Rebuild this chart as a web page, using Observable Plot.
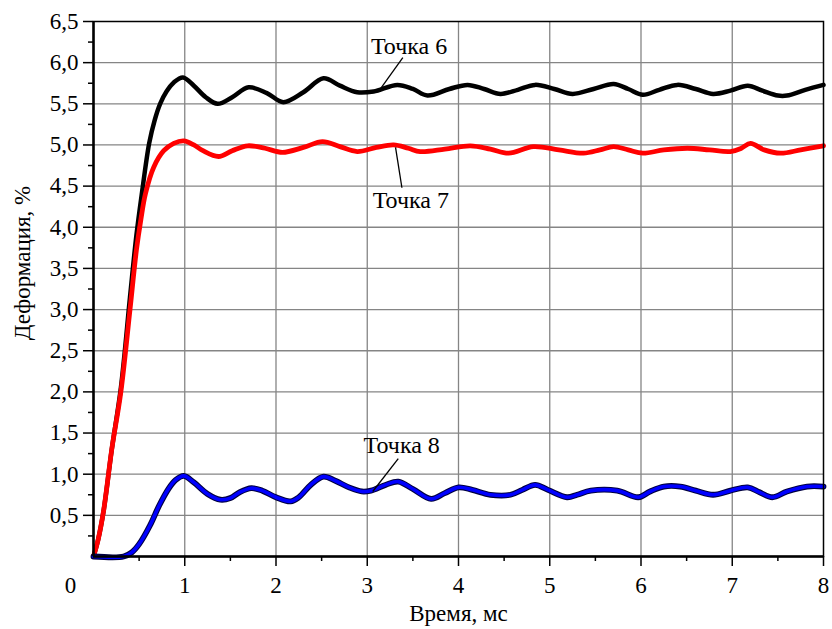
<!DOCTYPE html>
<html>
<head>
<meta charset="utf-8">
<script src="https://cdn.jsdelivr.net/npm/d3@7"></script>
<script src="https://cdn.jsdelivr.net/npm/@observablehq/plot@0.6"></script>
<style>
  html, body { margin: 0; padding: 0; background: white; }
</style>
</head>
<body>
<div id="chart"></div>
<script>
// Точка 6 (black)
const t6 = [0, 0.05, 0.11, 0.2, 0.3, 0.4, 0.47, 0.53, 0.61, 0.67, 0.73, 0.8, 0.88, 0.98, 1.1, 1.23, 1.36, 1.52, 1.7, 1.9, 2.08, 2.3, 2.52, 2.7, 2.89, 3.07, 3.33, 3.5, 3.66, 3.9, 4.1, 4.28, 4.46, 4.65, 4.84, 5.05, 5.25, 5.48, 5.7, 5.86, 6.02, 6.2, 6.4, 6.6, 6.79, 6.98, 7.17, 7.33, 7.5, 7.6, 7.8, 8.0];
const v6 = [0, 0.2, 0.55, 1.3, 2.05, 3.15, 3.9, 4.41, 5.02, 5.3, 5.5, 5.65, 5.76, 5.82, 5.72, 5.58, 5.5, 5.58, 5.7, 5.63, 5.52, 5.64, 5.81, 5.72, 5.64, 5.65, 5.73, 5.68, 5.6, 5.68, 5.73, 5.68, 5.62, 5.67, 5.73, 5.68, 5.62, 5.68, 5.74, 5.68, 5.61, 5.67, 5.73, 5.68, 5.62, 5.66, 5.72, 5.66, 5.6, 5.6, 5.67, 5.73];
// Точка 7 (red)
const t7 = [0, 0.05, 0.11, 0.2, 0.3, 0.4, 0.47, 0.52, 0.57, 0.66, 0.77, 0.88, 0.99, 1.1, 1.2, 1.37, 1.52, 1.69, 1.88, 2.07, 2.3, 2.51, 2.7, 2.89, 3.1, 3.29, 3.45, 3.58, 3.85, 4.13, 4.35, 4.55, 4.82, 5.1, 5.37, 5.55, 5.7, 5.86, 6.02, 6.25, 6.51, 6.75, 6.98, 7.1, 7.2, 7.35, 7.53, 7.75, 8.0];
const v7 = [0, 0.2, 0.55, 1.3, 2.0, 3.0, 3.72, 4.1, 4.41, 4.73, 4.93, 5.02, 5.05, 5.0, 4.93, 4.86, 4.93, 4.99, 4.96, 4.91, 4.97, 5.04, 4.98, 4.92, 4.97, 5.0, 4.96, 4.92, 4.95, 4.99, 4.95, 4.9, 4.98, 4.94, 4.9, 4.94, 4.98, 4.94, 4.9, 4.94, 4.96, 4.94, 4.92, 4.96, 5.02, 4.94, 4.9, 4.94, 4.99];
// Точка 8 (blue)
const t8 = [0, 0.33, 0.42, 0.5, 0.62, 0.72, 0.82, 0.9, 0.99, 1.1, 1.25, 1.39, 1.5, 1.6, 1.73, 1.85, 2.0, 2.16, 2.25, 2.38, 2.52, 2.65, 2.8, 2.94, 3.04, 3.2, 3.34, 3.5, 3.7, 3.85, 4.0, 4.15, 4.35, 4.57, 4.7, 4.84, 4.98, 5.19, 5.3, 5.45, 5.74, 5.97, 6.1, 6.25, 6.43, 6.6, 6.79, 6.98, 7.17, 7.3, 7.44, 7.6, 7.82, 8.0];
const v8 = [0, 0, 0.05, 0.15, 0.38, 0.62, 0.82, 0.93, 0.98, 0.9, 0.76, 0.69, 0.71, 0.78, 0.83, 0.8, 0.72, 0.67, 0.72, 0.87, 0.97, 0.92, 0.84, 0.79, 0.8, 0.87, 0.91, 0.82, 0.7, 0.77, 0.84, 0.81, 0.75, 0.75, 0.81, 0.87, 0.81, 0.72, 0.75, 0.8, 0.8, 0.72, 0.79, 0.85, 0.85, 0.8, 0.75, 0.8, 0.84, 0.78, 0.72, 0.79, 0.85, 0.85];

const xMajorTicks = [1, 2, 3, 4, 5, 6, 7, 8];
const xMinorTicks = [0.5, 1.5, 2.5, 3.5, 4.5, 5.5, 6.5, 7.5];
const yMajorTicks = [0.5, 1, 1.5, 2, 2.5, 3, 3.5, 4, 4.5, 5, 5.5, 6, 6.5];
const yMinorTicks = [0.25, 0.75, 1.25, 1.75, 2.25, 2.75, 3.25, 3.75, 4.25, 4.75, 5.25, 5.75, 6.25];
const gridX = [1, 2, 3, 4, 5, 6, 7];
const gridY = [0.5, 1, 1.5, 2, 2.5, 3, 3.5, 4, 4.5, 5, 5.5, 6];

const xTitle = "Время, мс";
const yTitle = "Деформация, %";

// annotation labels and leader lines (data units)
const annLabels = ["Точка 6", "Точка 7", "Точка 8"];
const annTextX = [3.04, 3.06, 2.96];
const annTextY = [6.2, 4.33, 1.35];
const annLeadX1 = [3.39, 3.31, 3.34];
const annLeadY1 = [6.06, 4.97, 1.19];
const annLeadX2 = [3.15, 3.38, 3.06];
const annLeadY2 = [5.69, 4.48, 0.79];

const s6 = t6.map((t, i) => ({t, v: v6[i]}));
const s7 = t7.map((t, i) => ({t, v: v7[i]}));
const s8 = t8.map((t, i) => ({t, v: v8[i]}));
const ann = annLabels.map((label, i) => ({
  label, tx: annTextX[i], ty: annTextY[i],
  x1: annLeadX1[i], y1: annLeadY1[i], x2: annLeadX2[i], y2: annLeadY2[i]
}));

const fmt = d => d.toFixed(1).replace(".", ",");
const FS = 23;
const FA = 24;
const FF = "'Liberation Serif', 'DejaVu Serif', serif";

const chart = Plot.plot({
  width: 832,
  height: 629,
  marginLeft: 93,
  marginRight: 9,
  marginTop: 21,
  marginBottom: 73,
  style: {fontSize: FS + "px", color: "black", background: "white"},
  x: {domain: [0, 8]},
  y: {domain: [0, 6.5]},
  marks: [
    Plot.gridX(gridX, {stroke: "#858585", strokeOpacity: 1, strokeWidth: 1.3}),
    Plot.gridY(gridY, {stroke: "#858585", strokeOpacity: 1, strokeWidth: 1.3}),
    Plot.axisY(yMinorTicks, {tickSize: 5, tickFormat: () => "", strokeWidth: 1.5, label: null}),
    Plot.axisY(yMajorTicks, {tickSize: 10, tickPadding: 5, tickFormat: fmt, strokeWidth: 1.5, label: null, fontSize: FS}),
    Plot.axisX(xMinorTicks, {tickSize: 5, tickFormat: () => "", strokeWidth: 1.5, label: null}),
    Plot.axisX(xMajorTicks, {tickSize: 10, tickPadding: 10, tickFormat: d => String(d), strokeWidth: 1.5, label: null, fontSize: FS}),
    Plot.text(["0"], {x: () => 0, y: () => 0, text: d => d, dx: -23, dy: 29, fontSize: FS}),
    Plot.text([xTitle], {frameAnchor: "bottom", textAnchor: "middle", lineAnchor: "middle", dy: 57, text: d => d, fontSize: FS}),
    Plot.text([yTitle], {frameAnchor: "left", textAnchor: "middle", lineAnchor: "middle", rotate: -90, dx: -71, dy: -26, text: d => d, fontSize: FS}),
    Plot.line(s6, {x: "t", y: "v", stroke: "black", strokeWidth: 4.5, curve: "catmull-rom"}),
    Plot.line(s7, {x: "t", y: "v", stroke: "#ff0000", strokeWidth: 4.8, curve: "catmull-rom"}),
    Plot.line(s8, {x: "t", y: "v", stroke: "#000040", strokeWidth: 5.8, curve: "catmull-rom"}),
    Plot.line(s8, {x: "t", y: "v", stroke: "#0000ff", strokeWidth: 3.6, curve: "catmull-rom"}),
    Plot.frame({stroke: "black", strokeWidth: 1.5}),
    Plot.ruleX([0], {stroke: "black", strokeWidth: 2.5}),
    Plot.ruleY([0], {stroke: "black", strokeWidth: 2.5}),
    Plot.link(ann, {x1: "x1", y1: "y1", x2: "x2", y2: "y2", stroke: "black", strokeWidth: 1.3}),
    Plot.text(ann, {x: "tx", y: "ty", text: "label", textAnchor: "start", fontSize: FA, fill: "black"})
  ]
});
chart.setAttribute("font-family", FF);
chart.style.fontFamily = FF;
chart.querySelectorAll("g, text").forEach(el => {
  el.setAttribute("font-family", FF);
  el.style.fontFamily = FF;
});
document.getElementById("chart").appendChild(chart);
</script>
</body>
</html>
